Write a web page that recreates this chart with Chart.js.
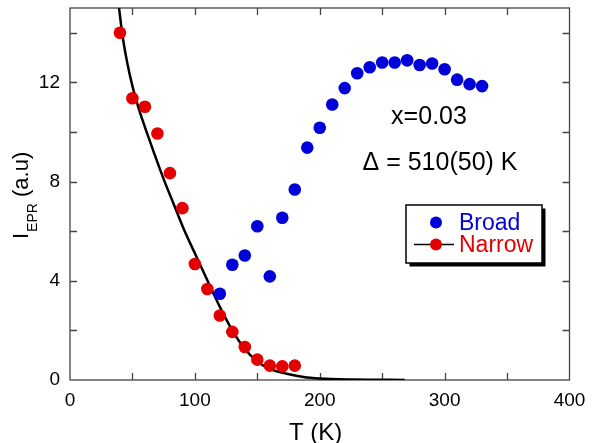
<!DOCTYPE html>
<html>
<head>
<meta charset="utf-8">
<script src="https://cdn.jsdelivr.net/npm/chart.js@4.4.1/dist/chart.umd.min.js"></script>
<style>
  html, body { margin: 0; padding: 0; background: #fff; }
</style>
</head>
<body>
<canvas id="chart" width="593" height="443"></canvas>
<script>
// narrow EPR line intensity (red dots)
const narrowT = [40, 50, 60, 70, 80, 90, 100, 110, 120, 130, 140, 150, 160, 170, 180];
const narrowI = [14.0, 11.36, 11.02, 9.94, 8.34, 6.93, 4.68, 3.67, 2.60, 1.94, 1.33, 0.82, 0.58, 0.55, 0.58];

// broad EPR line intensity (blue dots)
const broadT = [120, 130, 140, 150, 160, 170, 180, 190, 200, 210, 220, 230, 240, 250, 260, 270, 280, 290, 300, 310, 320, 330];
const broadI = [3.48, 4.65, 5.02, 6.20, 4.18, 6.54, 7.68, 9.37, 10.17, 11.11, 11.77, 12.37, 12.61, 12.80, 12.80, 12.89, 12.70, 12.76, 12.53, 12.11, 11.93, 11.85];

// fit curve, points
const fitT = [37, 39.2, 42, 46, 50, 55, 60, 67, 75, 83, 91, 101, 112, 120, 130, 140, 150, 160, 173.5, 187, 200, 227, 268];
const fitI = [15.9, 15.03, 13.9, 12.75, 11.85, 10.95, 10.2, 9.2, 8.1, 7.1, 6.1, 5.0, 3.8, 2.95, 2.0, 1.25, 0.75, 0.45, 0.25, 0.12, 0.06, 0.02, 0];

// tick marks (labels only on the bottom/left ones at stepSize)
const xTickMarks = [50, 100, 150, 200, 250, 300, 350];
const yTickMarks = [2, 4, 6, 8, 10, 12, 14];

const FONT = '"Liberation Sans", Arial, Helvetica, sans-serif';
const RED = '#e30000';
const BLUE = '#0000d8';

const toXY = (xs, ys) => xs.map((v, i) => ({ x: v, y: ys[i] }));

const frameTicks = {
  id: 'frameTicks',
  beforeDatasetsDraw(chart) {
    const { ctx, chartArea: a, scales: { x, y } } = chart;
    ctx.save();
    ctx.strokeStyle = '#444';
    ctx.lineWidth = 1.3;
    ctx.strokeRect(a.left, a.top, a.right - a.left, a.bottom - a.top);
    ctx.beginPath();
    xTickMarks.forEach(t => {
      const px = Math.round(x.getPixelForValue(t)) + 0.5;
      ctx.moveTo(px, a.bottom); ctx.lineTo(px, a.bottom - 7);
      ctx.moveTo(px, a.top); ctx.lineTo(px, a.top + 7);
    });
    yTickMarks.forEach(t => {
      const py = Math.round(y.getPixelForValue(t)) + 0.5;
      ctx.moveTo(a.left, py); ctx.lineTo(a.left + 7, py);
      ctx.moveTo(a.right, py); ctx.lineTo(a.right - 7, py);
    });
    ctx.stroke();
    ctx.restore();
  },
  afterDraw(chart) {
    const { ctx } = chart;
    ctx.save();
    ctx.fillStyle = '#000';

    // x title
    ctx.font = '24px ' + FONT;
    ctx.textAlign = 'left';
    ctx.textBaseline = 'alphabetic';
    ctx.fillText('T (K)', 289, 440);

    // y title with subscript, rotated
    ctx.save();
    ctx.translate(28, 239);
    ctx.rotate(-Math.PI / 2);
    ctx.font = '22px ' + FONT;
    ctx.fillText('I', 0, 0);
    let w = ctx.measureText('I').width;
    ctx.font = '14px ' + FONT;
    ctx.fillText('EPR', w + 1, 9);
    w += 1 + ctx.measureText('EPR').width;
    ctx.font = '22px ' + FONT;
    ctx.fillText(' (a.u)', w, 0);
    ctx.restore();

    // annotations
    ctx.font = '25px ' + FONT;
    ctx.textAlign = 'center';
    ctx.fillText('x=0.03', 429, 124);
    ctx.fillText('\u0394 = 510(50) K', 440, 170);

    // legend box with drop shadow
    const lx = 406, ly = 205, lw = 136, lh = 58;
    ctx.fillStyle = '#000';
    ctx.fillRect(lx + 3.5, ly + 3.5, lw, lh);
    ctx.fillStyle = '#fff';
    ctx.fillRect(lx, ly, lw, lh);
    ctx.strokeStyle = '#000';
    ctx.lineWidth = 1.5;
    ctx.strokeRect(lx, ly, lw, lh);

    ctx.fillStyle = BLUE;
    ctx.beginPath(); ctx.arc(436, 222.5, 6, 0, Math.PI * 2); ctx.fill();
    ctx.strokeStyle = '#000';
    ctx.lineWidth = 1.5;
    ctx.beginPath(); ctx.moveTo(414, 244.5); ctx.lineTo(454, 244.5); ctx.stroke();
    ctx.fillStyle = RED;
    ctx.beginPath(); ctx.arc(436, 244.5, 6, 0, Math.PI * 2); ctx.fill();

    ctx.font = '23px ' + FONT;
    ctx.textAlign = 'left';
    ctx.fillStyle = BLUE;
    ctx.fillText('Broad', 459, 230);
    ctx.fillStyle = RED;
    ctx.fillText('Narrow', 459, 252);
    ctx.restore();
  }
};

new Chart(document.getElementById('chart'), {
  type: 'scatter',
  data: {
    datasets: [
      {
        label: 'fit',
        data: toXY(fitT, fitI),
        showLine: true,
        borderColor: '#000',
        borderWidth: 2.5,
        pointRadius: 0,
        cubicInterpolationMode: 'monotone',
        order: 3,
      },
      {
        label: 'Narrow',
        data: toXY(narrowT, narrowI),
        backgroundColor: RED,
        borderWidth: 0,
        pointRadius: 6.3,
        order: 2,
      },
      {
        label: 'Broad',
        data: toXY(broadT, broadI),
        backgroundColor: BLUE,
        borderWidth: 0,
        pointRadius: 6.3,
        order: 1,
      },
    ],
  },
  options: {
    responsive: false,
    animation: false,
    devicePixelRatio: 1,
    layout: { padding: { left: 0, top: 8, right: 23.5, bottom: 0 } },
    plugins: {
      legend: { display: false },
      tooltip: { enabled: false },
    },
    scales: {
      x: {
        type: 'linear',
        min: 0,
        max: 400,
        grid: { display: false, drawTicks: false },
        border: { display: false },
        ticks: { stepSize: 100, color: '#000', font: { family: FONT, size: 19 }, padding: 9, maxRotation: 0 },
        afterFit(s) { s.height = 63; s.paddingLeft = 0; s.paddingRight = 0; },
      },
      y: {
        min: 0,
        max: 15,
        grid: { display: false, drawTicks: false },
        border: { display: false },
        ticks: { stepSize: 4, includeBounds: false, color: '#000', font: { family: FONT, size: 19 }, padding: 10 },
        afterFit(s) { s.width = 70; s.paddingTop = 0; s.paddingBottom = 0; },
      },
    },
  },
  plugins: [frameTicks],
});
</script>
</body>
</html>
